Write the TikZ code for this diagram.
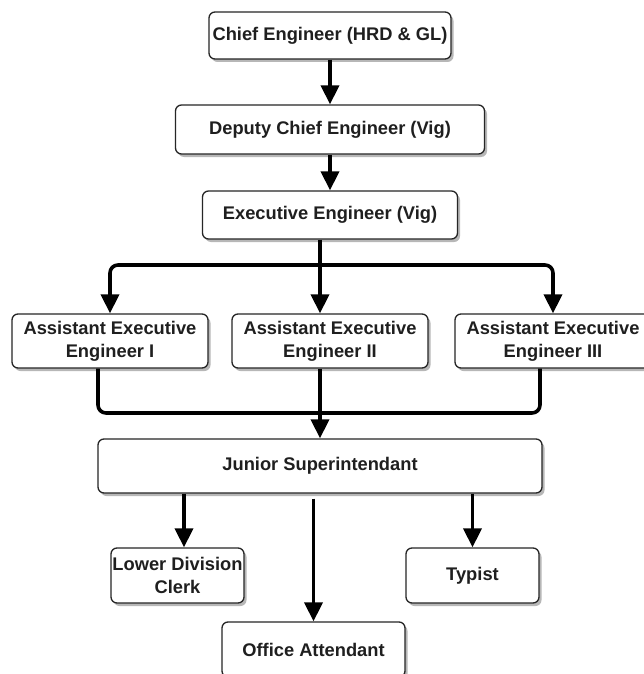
\documentclass[tikz,border=0pt]{standalone}
\usepackage{fontspec}
\setmainfont{Liberation Sans}
\usetikzlibrary{arrows.meta,shadows}

\tikzset{
  post/.style={draw=black!85, line width=1.3pt, rounded corners=6pt, fill=white,
    drop shadow={shadow xshift=2.5pt, shadow yshift=-3pt, fill=black!40, opacity=0.7},
    align=center, inner sep=0pt, text=black!88,
    font=\fontsize{18.3}{23}\selectfont\bfseries},
  link/.style={line width=3.6pt, rounded corners=8pt, -{Triangle[width=18pt,length=19pt]}},
  bus/.style={line width=3.6pt, rounded corners=8pt},
}

\begin{document}
\begin{tikzpicture}[x=1pt, y=-1pt]
			%%%%% START %%%%%
			
			\fill[white] (0, 0) rectangle (643, 674);
			\useasboundingbox (0, 0) rectangle (643, 674);
			
			\node[post, minimum width=242pt, minimum height=47pt] (chief) at (330, 35.5) {Chief Engineer (HRD \& GL)};
			\node[post, minimum width=309pt, minimum height=49pt] (deputy) at (330, 129.5) {Deputy Chief Engineer (Vig)};
			\node[post, minimum width=255pt, minimum height=48pt] (exec) at (330, 215) {Executive Engineer (Vig)};
			
			\node[post, minimum width=196pt, minimum height=54pt] (aee1) at (110, 341) {Assistant Executive\\Engineer I};
			\node[post, minimum width=196pt, minimum height=54pt] (aee2) at (330, 341) {Assistant Executive\\Engineer II};
			\node[post, minimum width=196pt, minimum height=54pt] (aee3) at (553, 341) {Assistant Executive\\Engineer III};
			
			\node[post, minimum width=444pt, minimum height=54pt] (junior) at (320, 466) {Junior Superintendant};
			
			\node[post, minimum width=133pt, minimum height=55pt] (ldc) at (177.5, 575.5) {Lower Division\\Clerk};
			\node[post, minimum width=133pt, minimum height=55pt] (typist) at (472.5, 575.5) {Typist};
			\node[post, minimum width=183pt, minimum height=55pt] (office) at (313.5, 649.5) {Office Attendant};
			
			\coordinate (split) at (320, 265);
			\coordinate (merge) at (320, 413);
			
			\draw[link] (chief.south) -- (chief.south |- deputy.north);
			\draw[link] (deputy.south) -- (deputy.south |- exec.north);
			
			\draw[link] ([xshift=-10pt]exec.south) -- (split |- aee2.north);
			\draw[link] (split) -| (aee1.north);
			\draw[link] (split) -| (aee3.north);
			
			\draw[bus] ([xshift=-12pt]aee1.south) |- (merge);
			\draw[bus] ([xshift=-13pt]aee3.south) |- (merge);
			\draw[link] ([xshift=-10pt]aee2.south) -- (merge |- junior.north);
			
			\draw[link] ([xshift=6.5pt]ldc.north |- junior.south) -- ([xshift=6.5pt]ldc.north);
			\draw[link] ([yshift=-5pt]office.north |- junior.south) -- (office.north);
			\draw[link] (typist.north |- junior.south) -- (typist.north);
			
			%%%%% END %%%%%
\end{tikzpicture}
\end{document}
